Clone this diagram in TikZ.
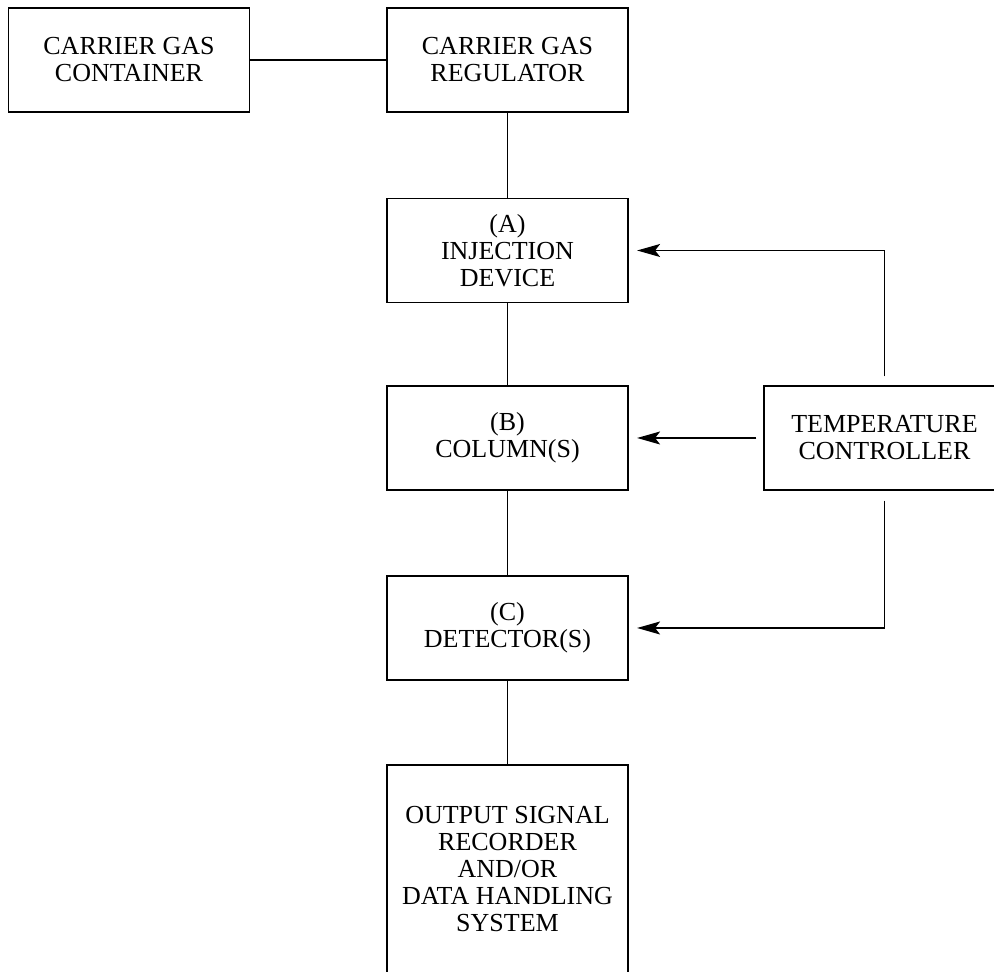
\documentclass[tikz,border=0pt]{standalone}
\usepackage{fontspec}
\setmainfont{Liberation Serif}
\usetikzlibrary{arrows.meta}
\begin{document}
\begin{tikzpicture}[x=1pt,y=1pt,
  box/.style={draw, line width=1.2pt, rectangle, minimum width=241pt, minimum height=104pt,
    inner sep=0pt, align=center, font=\fontsize{26}{27}\selectfont},
  link/.style={line width=1.2pt},
  arr/.style={line width=1.2pt, -{Stealth[length=23pt, width=13pt, inset=5pt]}}]
\path[use as bounding box] (0,0) rectangle (994,972);
\clip (0,0) rectangle (994,972);
\node[box] (cont) at (129,912) {CARRIER GAS\\CONTAINER};
\node[box] (reg) at (507.5,912) {CARRIER GAS\\REGULATOR};
\node[box] (inj) at (507.5,721.5) {(A)\\INJECTION\\DEVICE};
\node[box] (col) at (507.5,534) {(B)\\COLUMN(S)};
\node[box] (det) at (507.5,344) {(C)\\DETECTOR(S)};
\node[box] (tc) at (884.5,534) {TEMPERATURE\\CONTROLLER};
\node[box, minimum height=209pt] (out) at (507.5,102.5) {OUTPUT SIGNAL\\RECORDER\\AND/OR\\DATA HANDLING\\SYSTEM};
\draw[link] (cont) -- (reg);
\draw[link] (reg) -- (inj);
\draw[link] (inj) -- (col);
\draw[link] (col) -- (det);
\draw[link] (det) -- (out);
\draw[arr, shorten <=9pt, shorten >=8.5pt] (tc.north) |- (inj.east);
\draw[arr, shorten <=7pt, shorten >=8.5pt] (tc.west) -- (col.east);
\draw[arr, shorten <=10pt, shorten >=8.5pt] (tc.south) |- (det.east);
\end{tikzpicture}
\end{document}
